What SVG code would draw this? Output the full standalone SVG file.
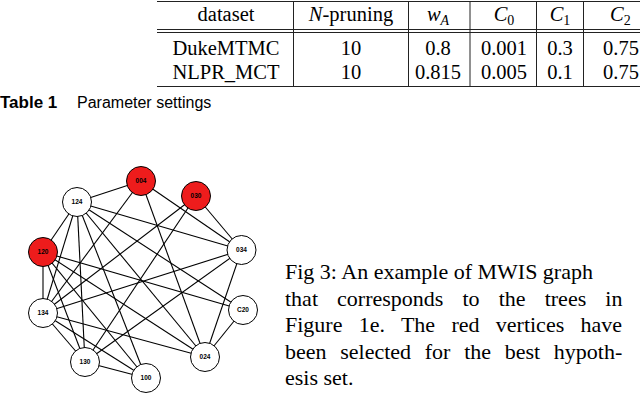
<svg xmlns="http://www.w3.org/2000/svg" width="640" height="394" viewBox="0 0 640 394">
<style>
.tb{font-family:"Liberation Serif","Times New Roman",serif;font-size:20.5px;fill:#000;text-anchor:middle}
.rule{stroke:#222;stroke-width:1;fill:none}
.cap{font-family:"Liberation Serif","Times New Roman",serif;font-size:22px;fill:#000}
.edge{stroke:#000;stroke-width:1.1;fill:none}
.node circle{stroke:#000;stroke-width:1;fill:#fff}
.node.sel circle{fill:#ee1c1c}
.node text{font-family:"Liberation Sans",Arial,sans-serif;font-size:6.5px;font-weight:bold;text-anchor:middle;fill:#000}
</style>
<rect width="640" height="394" fill="#fff"/>
<g id="table">
<line class="rule" x1="157" y1="1.5" x2="640" y2="1.5"/>
<line class="rule" x1="157" y1="29.5" x2="640" y2="29.5"/>
<line class="rule" x1="157" y1="32.5" x2="640" y2="32.5"/>
<line class="rule" x1="157" y1="86.5" x2="640" y2="86.5"/>
<line class="rule" x1="293.5" y1="1.5" x2="293.5" y2="86.5"/>
<line class="rule" x1="408.5" y1="1.5" x2="408.5" y2="86.5"/>
<line class="rule" x1="470" y1="1.5" x2="470" y2="86.5"/>
<line class="rule" x1="536.5" y1="1.5" x2="536.5" y2="86.5"/>
<line class="rule" x1="583.5" y1="1.5" x2="583.5" y2="86.5"/>
<text class="tb" x="226" y="21">dataset</text>
<text class="tb" x="351" y="21"><tspan font-style="italic">N</tspan>-pruning</text>
<text class="tb" x="438" y="21"><tspan font-style="italic">w</tspan><tspan font-style="italic" font-size="14" dy="3.5">A</tspan></text>
<text class="tb" x="504" y="21"><tspan font-style="italic">C</tspan><tspan font-size="14" dy="3.5">0</tspan></text>
<text class="tb" x="560" y="21"><tspan font-style="italic">C</tspan><tspan font-size="14" dy="3.5">1</tspan></text>
<text class="tb" x="610" y="21" style="text-anchor:start"><tspan font-style="italic">C</tspan><tspan font-size="14" dy="3.5">2</tspan></text>
<text class="tb" x="226" y="55">DukeMTMC</text>
<text class="tb" x="351" y="55">10</text>
<text class="tb" x="438" y="55">0.8</text>
<text class="tb" x="504" y="55">0.001</text>
<text class="tb" x="560" y="55">0.3</text>
<text class="tb" x="603" y="55" style="text-anchor:start">0.75</text>
<text class="tb" x="226" y="79">NLPR_MCT</text>
<text class="tb" x="351" y="79">10</text>
<text class="tb" x="438" y="79">0.815</text>
<text class="tb" x="504" y="79">0.005</text>
<text class="tb" x="560" y="79">0.1</text>
<text class="tb" x="603" y="79" style="text-anchor:start">0.75</text>
</g>
<g id="table-caption" font-family="'Liberation Sans',Arial,sans-serif">
<text x="0" y="107.5" font-size="17" font-weight="bold">Table 1</text>
<text x="77" y="107.5" font-size="16">Parameter settings</text>
</g>
<g id="connectors">
<line class="edge" x1="141" y1="181" x2="77" y2="202"/>
<line class="edge" x1="141" y1="181" x2="43" y2="313"/>
<line class="edge" x1="141" y1="181" x2="205" y2="357"/>
<line class="edge" x1="141" y1="181" x2="241.5" y2="250"/>
<line class="edge" x1="77" y1="202" x2="43" y2="252"/>
<line class="edge" x1="77" y1="202" x2="43" y2="313"/>
<line class="edge" x1="77" y1="202" x2="85" y2="362"/>
<line class="edge" x1="77" y1="202" x2="146" y2="378"/>
<line class="edge" x1="77" y1="202" x2="241.5" y2="250"/>
<line class="edge" x1="77" y1="202" x2="243" y2="310"/>
<line class="edge" x1="77" y1="202" x2="205" y2="357"/>
<line class="edge" x1="196" y1="196" x2="241.5" y2="250"/>
<line class="edge" x1="196" y1="196" x2="43" y2="313"/>
<line class="edge" x1="196" y1="196" x2="85" y2="362"/>
<line class="edge" x1="43" y1="252" x2="43" y2="313"/>
<line class="edge" x1="43" y1="252" x2="243" y2="310"/>
<line class="edge" x1="43" y1="252" x2="205" y2="357"/>
<line class="edge" x1="43" y1="252" x2="85" y2="362"/>
<line class="edge" x1="43" y1="252" x2="146" y2="378"/>
<line class="edge" x1="241.5" y1="250" x2="43" y2="313"/>
<line class="edge" x1="241.5" y1="250" x2="85" y2="362"/>
<line class="edge" x1="241.5" y1="250" x2="205" y2="357"/>
<line class="edge" x1="43" y1="313" x2="85" y2="362"/>
<line class="edge" x1="43" y1="313" x2="146" y2="378"/>
<line class="edge" x1="43" y1="313" x2="205" y2="357"/>
<line class="edge" x1="243" y1="310" x2="205" y2="357"/>
<line class="edge" x1="85" y1="362" x2="146" y2="378"/>
</g>
<g id="n004" class="node sel"><circle cx="141" cy="181" r="14.5"/><text x="141" y="183.3">004</text></g>
<g id="n124a" class="node"><circle cx="77" cy="202" r="14.5"/><text x="77" y="204.3">124</text></g>
<g id="n030" class="node sel"><circle cx="196" cy="196" r="14.5"/><text x="196" y="198.3">030</text></g>
<g id="n120" class="node sel"><circle cx="43" cy="252" r="14.5"/><text x="43" y="254.3">120</text></g>
<g id="n034" class="node"><circle cx="241.5" cy="250" r="14.5"/><text x="241.5" y="252.3">034</text></g>
<g id="n134" class="node"><circle cx="43" cy="313" r="14.5"/><text x="43" y="315.3">134</text></g>
<g id="nC20" class="node"><circle cx="243" cy="310" r="14.5"/><text x="243" y="312.3">C20</text></g>
<g id="n130" class="node"><circle cx="85" cy="362" r="14.5"/><text x="85" y="364.3">130</text></g>
<g id="n024" class="node"><circle cx="205" cy="357" r="14.5"/><text x="205" y="359.3">024</text></g>
<g id="n100" class="node"><circle cx="146" cy="378" r="14.5"/><text x="146" y="380.3">100</text></g>
<g id="fig-caption" class="cap">
<text x="285" y="279">Fig 3: An example of MWIS graph</text>
<text x="285" y="305.5" word-spacing="13.6">that corresponds to the trees in</text>
<text x="285" y="332" word-spacing="10.8">Figure 1e. The red vertices have</text>
<text x="285" y="358.5" word-spacing="8.2">been selected for the best hypoth-</text>
<text x="285" y="385">esis set.</text>
</g>
</svg>
